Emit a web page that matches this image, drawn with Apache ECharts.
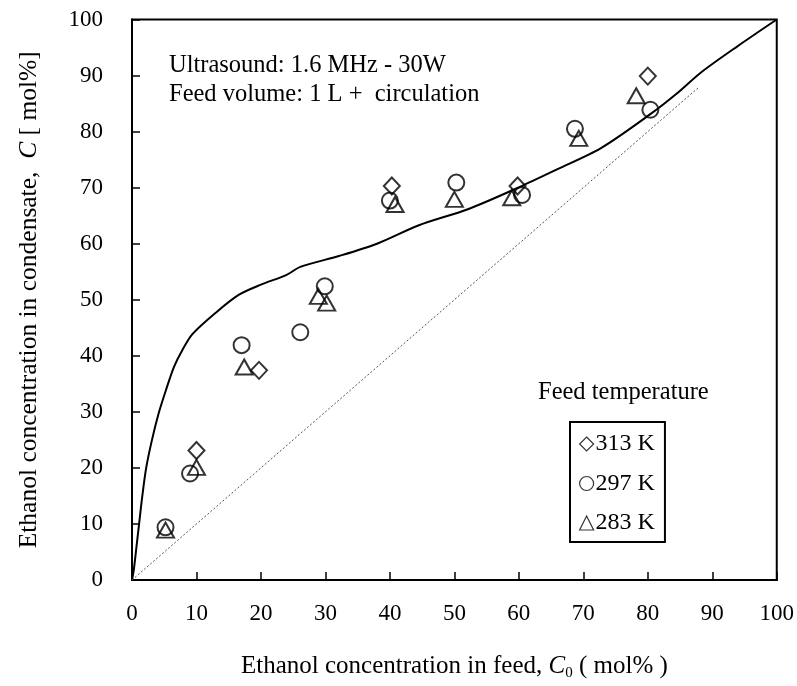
<!DOCTYPE html>
<html>
<head>
<meta charset="utf-8">
<script src="https://cdn.jsdelivr.net/npm/echarts@6/dist/echarts.min.js"></script>
<style>html,body{margin:0;padding:0;background:#fff;}#c{width:797px;height:686px;}</style>
</head>
<body>
<div id="c"></div>
<script>
// Tick values
var xTicks = [0,10,20,30,40,50,60,70,80,90,100];
var yTicks = [0,10,20,30,40,50,60,70,80,90,100];

// Series names
var seriesNames = ['313 K','297 K','283 K'];

// Feed temperature 313 K (diamonds): [C0, C]
var data313 = [[10.0,23.1],[19.7,37.4],[40.3,70.3],[59.8,70.3],[80.0,89.9]];
// Feed temperature 297 K (circles)
var data297 = [[5.2,9.4],[9.0,19.0],[17.0,41.9],[26.1,44.2],[29.9,52.4],[40.0,67.7],[50.3,70.9],[60.5,68.7],[68.7,80.5],[80.4,83.9]];
// Feed temperature 283 K (triangles)
var data283 = [[5.2,8.9],[10.0,20.1],[17.4,38.0],[28.9,50.6],[30.2,49.4],[40.8,67.0],[50.0,67.9],[58.9,68.2],[69.3,78.8],[78.2,86.4]];

// Vapour-liquid equilibrium curve (solid line)
var vleCurve = [[0,0],[0.3,2],[0.7,6],[1.1,10],[1.6,15],[2.2,20],[3.1,25],[4.2,30],[5.3,34],[6.5,38],[7.8,41],[9.4,43.9],[13,47.7],[16.6,50.9],[20,52.7],[23.9,54.4],[26.2,55.9],[32.1,57.8],[38,60],[44.5,63.3],[52.2,66.2],[59.9,70],[66,73.3],[72.8,77.1],[80.5,83.2],[84.5,86.8],[88.3,90.6],[94,95.3],[100,100]];

// Diagonal y = x (dotted)
var diagonal = [[0,0],[88,88]];

var FONT = 'Liberation Serif';
var chart = echarts.init(document.getElementById('c'), null, {renderer:'canvas'});

var openStyle = {color:'rgba(0,0,0,0)', borderColor:'#000', borderWidth:2};

chart.setOption({
  animation:false,
  backgroundColor:'#fff',
  grid:{left:132, right:19, top:19.5, bottom:99, show:true, borderColor:'#000', borderWidth:2, backgroundColor:'transparent'},
  xAxis:{
    type:'value', min:xTicks[0], max:xTicks[xTicks.length-1], interval:10,
    axisLine:{show:true, onZero:false, lineStyle:{color:'#000', width:2}},
    axisTick:{show:true, inside:true, length:8, lineStyle:{color:'#000', width:1.5}},
    axisLabel:{color:'#000', fontFamily:FONT, fontSize:23, margin:22},
    splitLine:{show:false},
    name:'Ethanol concentration in feed, {i|C}{s|0} ( mol% )',
    nameLocation:'middle', nameGap:72,
    nameTextStyle:{color:'#000', fontFamily:FONT, fontSize:25,
      rich:{i:{fontStyle:'italic', fontFamily:FONT, fontSize:25, color:'#000'},
            s:{fontFamily:FONT, fontSize:15, color:'#000', verticalAlign:'bottom', padding:[14,0,0,0]}}}
  },
  yAxis:{
    type:'value', min:yTicks[0], max:yTicks[yTicks.length-1], interval:10,
    axisLine:{show:true, onZero:false, lineStyle:{color:'#000', width:2}},
    axisTick:{show:true, inside:true, length:8, lineStyle:{color:'#000', width:1.5}},
    axisLabel:{color:'#000', fontFamily:FONT, fontSize:23, margin:29},
    splitLine:{show:false},
    name:'Ethanol concentration in condensate,  {i|C} [ mol%]',
    nameLocation:'middle', nameGap:90,
    nameTextStyle:{color:'#000', fontFamily:FONT, fontSize:25.5,
      rich:{i:{fontStyle:'italic', fontFamily:FONT, fontSize:25.5, color:'#000'}}}
  },
  legend:{
    orient:'vertical', left:570, top:422, width:97,
    data:seriesNames,
    borderColor:'#000', borderWidth:2, padding:[10,10,7,9],
    itemWidth:14, itemHeight:14, itemGap:15.5,
    itemStyle:{color:'rgba(0,0,0,0)', borderColor:'#000', borderWidth:1.2},
    textStyle:{color:'#000', fontFamily:FONT, fontSize:24, padding:[0,0,0,-3]}
  },
  graphic:[
    {type:'text', left:169, top:53, style:{text:'Ultrasound: 1.6 MHz - 30W', fill:'#000', font:'24.5px "'+FONT+'"'}},
    {type:'text', left:169, top:82, style:{text:'Feed volume: 1 L +  circulation', fill:'#000', font:'24.5px "'+FONT+'"'}},
    {type:'text', left:538, top:380, style:{text:'Feed temperature', fill:'#000', font:'24.5px "'+FONT+'"'}}
  ],
  series:[
    {type:'line', data:vleCurve, smooth:0.3, showSymbol:false, symbol:'none', lineStyle:{color:'#000', width:2}, silent:true, z:1},
    {type:'line', data:diagonal, showSymbol:false, symbol:'none', lineStyle:{color:'#555', width:1, type:[2,2]}, silent:true, z:1},
    {name:seriesNames[0], type:'scatter', data:data313, symbol:'diamond', symbolSize:[16,17], itemStyle:openStyle, z:3},
    {name:seriesNames[1], type:'scatter', data:data297, symbol:'circle', symbolSize:16, itemStyle:openStyle, z:3},
    {name:seriesNames[2], type:'scatter', data:data283, symbol:'triangle', symbolSize:[17,15], itemStyle:openStyle, z:3}
  ]
});
</script>
</body>
</html>
